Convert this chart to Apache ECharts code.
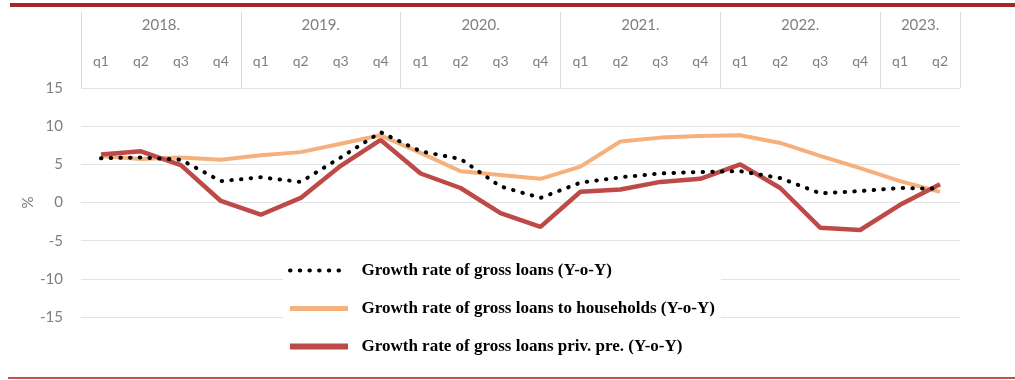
<!DOCTYPE html>
<html>
<head>
<meta charset="utf-8">
<title>Growth rate of gross loans</title>
<script src="https://cdn.jsdelivr.net/npm/echarts@6/dist/echarts.min.js"></script>
<style>
  html, body { margin: 0; padding: 0; background: #ffffff; }
  #chart { width: 1015px; height: 380px; }
</style>
</head>
<body>
<div id="chart"></div>
<script>
// Quarter labels along the top axis (2018 q1 .. 2023 q2)
const quarterLabels = [
  'q1','q2','q3','q4', 'q1','q2','q3','q4', 'q1','q2','q3','q4',
  'q1','q2','q3','q4', 'q1','q2','q3','q4', 'q1','q2'
];

// Year headers: label and its centre / boundaries in quarter units
const yearLabels = ['2018.', '2019.', '2020.', '2021.', '2022.', '2023.'];
const yearCentres = [2, 6, 10, 14, 18, 21];
const yearBounds = [0, 4, 8, 12, 16, 20, 22];

// Y-o-Y growth rates, %
const grossLoans = [
  5.8, 5.9, 5.6, 2.8, 3.3, 2.7, 5.9, 9.2, 6.7, 5.7, 2.1,
  0.6, 2.6, 3.3, 3.8, 4.0, 4.1, 3.2, 1.2, 1.5, 1.9, 1.8
];
const householdLoans = [
  6.1, 5.7, 5.9, 5.6, 6.2, 6.6, 7.7, 8.8, 6.5, 4.1, 3.6,
  3.1, 4.7, 8.0, 8.5, 8.7, 8.8, 7.8, 6.1, 4.5, 2.8, 1.4
];
const privateLoans = [
  6.3, 6.7, 4.9, 0.2, -1.6, 0.6, 4.8, 8.2, 3.8, 1.9, -1.4,
  -3.2, 1.4, 1.7, 2.7, 3.1, 5.0, 1.9, -3.3, -3.6, -0.3, 2.4
];

const seriesNames = [
  'Growth rate of gross loans (Y-o-Y)',
  'Growth rate of gross loans to households (Y-o-Y)',
  'Growth rate of gross loans priv. pre. (Y-o-Y)'
];

const gray = '#7f7f7f';
const labelFont = 'Lato, "Open Sans", sans-serif';

const chart = echarts.init(document.getElementById('chart'), null, { renderer: 'canvas' });

chart.setOption({
  animation: false,
  backgroundColor: '#ffffff',
  grid: { left: 81, right: 55, top: 88, bottom: 63 },
  graphic: [
    { type: 'rect', shape: { x: 10, y: 3, width: 1005, height: 4 },
      style: { fill: '#a3262b' }, silent: true },
    { type: 'rect', shape: { x: 8, y: 377, width: 1007, height: 2 },
      style: { fill: '#c0504d' }, silent: true }
  ],
  legend: {
    orient: 'vertical',
    left: 283,
    top: 258,
    itemWidth: 58,
    itemHeight: 17,
    itemGap: 21,
    padding: [4, 6, 2, 4],
    backgroundColor: '#ffffff',
    itemStyle: { opacity: 0 },
    formatter: function (name) { return '  ' + name; },
    textStyle: {
      fontFamily: '"Liberation Serif", "Times New Roman", serif',
      fontWeight: 'bold',
      fontSize: 17,
      color: '#000000'
    },
    data: [
      { name: seriesNames[0], lineStyle: { width: 4 } },
      { name: seriesNames[1], lineStyle: { width: 5 } },
      { name: seriesNames[2], lineStyle: { width: 6 } }
    ]
  },
  xAxis: [
    {
      type: 'category',
      position: 'top',
      data: quarterLabels,
      boundaryGap: true,
      axisLine: { show: false },
      axisTick: { show: false },
      axisLabel: {
        interval: 0,
        margin: 20,
        color: gray,
        fontSize: 14,
        fontFamily: labelFont
      },
      splitLine: { show: false }
    },
    {
      type: 'value',
      position: 'top',
      min: 0,
      max: 22,
      axisLine: { show: false },
      axisTick: {
        show: true,
        inside: false,
        length: 76,
        customValues: yearBounds,
        lineStyle: { color: '#dcdcdc', width: 1 }
      },
      axisLabel: {
        show: true,
        margin: 55,
        customValues: yearCentres,
        formatter: function (v) {
          const i = yearCentres.indexOf(v);
          return i >= 0 ? yearLabels[i] : '';
        },
        color: gray,
        fontSize: 15,
        fontFamily: labelFont
      },
      splitLine: { show: false }
    }
  ],
  yAxis: {
    type: 'value',
    min: -15,
    max: 15,
    interval: 5,
    name: '%',
    nameLocation: 'middle',
    nameRotate: 90,
    nameGap: 45,
    nameMoveOverlap: false,
    nameTextStyle: { color: gray, fontSize: 15, fontFamily: labelFont },
    axisLine: { show: false },
    axisTick: { show: false },
    axisLabel: { margin: 18, color: gray, fontSize: 15, fontFamily: labelFont },
    splitLine: { lineStyle: { color: '#e3e3e3', width: 1 } }
  },
  series: [
    {
      name: seriesNames[1],
      type: 'line',
      data: householdLoans,
      showSymbol: false,
      symbol: 'none',
      z: 2,
      lineStyle: { color: '#f5b07c', width: 4 },
      itemStyle: { color: '#f5b07c' }
    },
    {
      name: seriesNames[2],
      type: 'line',
      data: privateLoans,
      showSymbol: false,
      symbol: 'none',
      z: 3,
      lineStyle: { color: '#be4a47', width: 4.5 },
      itemStyle: { color: '#be4a47' }
    },
    {
      name: seriesNames[0],
      type: 'line',
      data: grossLoans,
      showSymbol: false,
      symbol: 'none',
      z: 4,
      lineStyle: { color: '#000000', width: 4, type: [0.5, 9.2], cap: 'round' },
      itemStyle: { color: '#000000' }
    }
  ]
});
</script>
</body>
</html>
